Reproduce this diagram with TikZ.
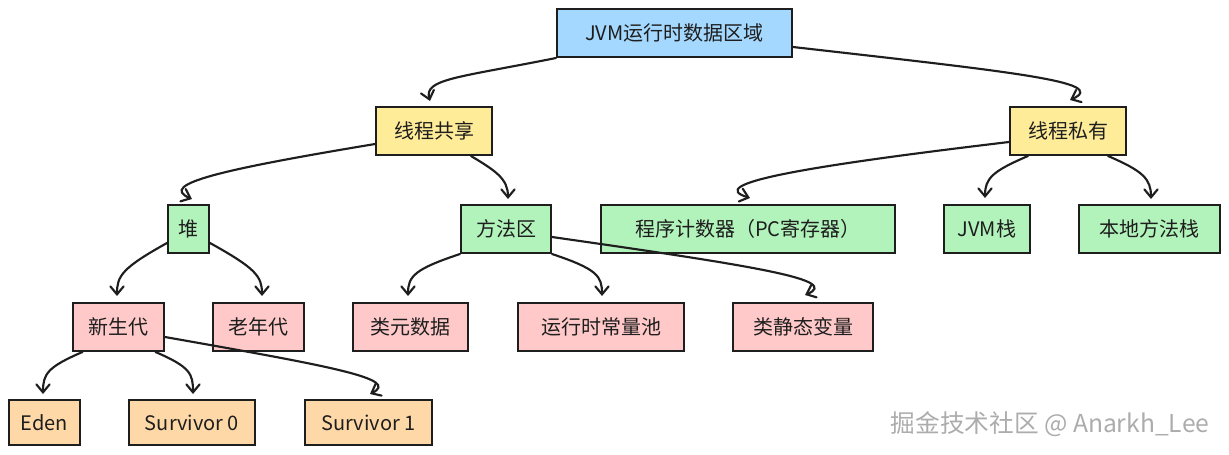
\documentclass[tikz,border=0pt]{standalone}
\usepackage{fontspec}
\setmainfont{Noto Sans CJK SC}
\usepackage{tikz}
\usetikzlibrary{arrows.meta,calc}
\definecolor{inkBlack}{RGB}{30,30,30}
\definecolor{areaBlue}{RGB}{165,216,255}
\definecolor{threadYellow}{RGB}{255,236,153}
\definecolor{partGreen}{RGB}{178,242,187}
\definecolor{itemPink}{RGB}{255,201,201}
\definecolor{genOrange}{RGB}{255,216,168}
\tikzset{every picture/.style={line width=0.75pt},
	box/.style={draw=inkBlack, line width=1.5pt, inner sep=0pt, text=inkBlack, font=\fontsize{15}{18}\selectfont},
	sz/.style 2 args={minimum width=#1*0.75pt, minimum height=#2*0.75pt},
	link/.style={draw=inkBlack, line width=1.6pt, line cap=round, -{Straight Barb[length=6pt,width=10pt,line cap=round]}}
}

\begin{document}
\begin{tikzpicture}[x=0.75pt,y=-0.75pt]
		\useasboundingbox (0,0) rectangle (1229,454);
		
		%Shape: Rectangle [top]
		\node [box, fill=areaBlue, sz={235}{48}] (jvm) at (674.5,33) {JVM运行时数据区域};
		
		%Shape: Rectangle [level 1]
		\node [box, fill=threadYellow, sz={116}{48}] (share) at (434,131) {线程共享};
		\node [box, fill=threadYellow, sz={116}{48}] (private) at (1068,131) {线程私有};
		
		%Shape: Rectangle [level 2]
		\node [box, fill=partGreen, sz={41}{48}] (heap) at (188.5,229) {堆};
		\node [box, fill=partGreen, sz={90}{48}] (method) at (506,229) {方法区};
		\node [box, fill=partGreen, sz={294}{48}] (pc) at (748,229) {程序计数器（PC寄存器）};
		\node [box, fill=partGreen, sz={86}{48}] (jstack) at (987,229) {JVM栈};
		\node [box, fill=partGreen, sz={141}{48}] (native) at (1149.5,229) {本地方法栈};
		
		%Shape: Rectangle [level 3]
		\node [box, fill=itemPink, sz={91}{48}] (young) at (118.5,327) {新生代};
		\node [box, fill=itemPink, sz={91}{48}] (old) at (258.5,327) {老年代};
		\node [box, fill=itemPink, sz={115}{48}] (meta) at (410.5,327) {类元数据};
		\node [box, fill=itemPink, sz={166}{48}] (pool) at (601,327) {运行时常量池};
		\node [box, fill=itemPink, sz={140}{48}] (static) at (803,327) {类静态变量};
		
		%Shape: Rectangle [level 4]
		\node [box, fill=genOrange, sz={71}{45}] (eden) at (44.5,422.5) {Eden};
		\node [box, fill=genOrange, sz={126}{45}] (sZero) at (192,422.5) {Survivor 0};
		\node [box, fill=genOrange, sz={127}{45}] (sOne) at (368.5,422.5) {Survivor 1};
		
		%Curve Lines
		\draw [link] (jvm.south west) .. controls +(-100,20) and +(-6,-22) .. ($(share.north)+(-4,-5)$);
		\draw [link] ($(jvm.east)+(0,14)$) .. controls +(220,25) and +(40,-18) .. ($(private.north)+(2,-6)$);
		
		\draw [link] ($(share.west)+(0,13)$) .. controls +(-150,25) and +(-35,-15) .. ($(heap.north)+(3.5,-5)$);
		\draw [link] ($(share.south east)+(-22,0)$) .. controls +(25,15) and +(0,-20) .. ($(method.north)+(2,-5)$);
		\draw [link] ($(private.west)+(0,11)$) .. controls +(-210,25) and +(-45,-14) .. ($(pc.north)+(2,-6)$);
		\draw [link] ($(private.south)+(-40,0)$) .. controls +(-35,15) and +(0,-20) .. ($(jstack.north)+(-2,-6)$);
		\draw [link] ($(private.south)+(40,0)$) .. controls +(35,15) and +(0,-20) .. ($(native.north)+(1.5,-5)$);
		
		\draw [link] ($(heap.west)+(0,14)$) .. controls +(-45,25) and +(0,-20) .. ($(young.north)+(-1.5,-6)$);
		\draw [link] ($(heap.east)+(0,14)$) .. controls +(45,25) and +(0,-20) .. ($(old.north)+(3.5,-6)$);
		\draw [link] (method.south west) .. controls +(-45,15) and +(0,-20) .. ($(meta.north)+(-2.5,-6)$);
		\draw [link] (method.south east) .. controls +(45,15) and +(0,-20) .. ($(pool.north)+(1,-6)$);
		\draw [link] ($(method.east)+(0,8)$) .. controls +(210,30) and +(35,-15) .. ($(static.north)+(2,-7)$);
		
		\draw [link] ($(young.south)+(-36,0)$) .. controls +(-35,15) and +(0,-20) .. ($(eden.north)+(-1.5,-5)$);
		\draw [link] ($(young.south)+(37,0)$) .. controls +(35,15) and +(0,-20) .. ($(sZero.north)+(1,-5)$);
		\draw [link] ($(young.east)+(0,10)$) .. controls +(170,30) and +(30,-15) .. ($(sOne.north)+(1.5,-5)$);
		
		% Text Node
		\node [text=gray!65, font=\fontsize{18.5}{22}\selectfont] (watermark) at (1050,424) {掘金技术社区 @ Anarkh\_Lee};
		
\end{tikzpicture}
\end{document}
